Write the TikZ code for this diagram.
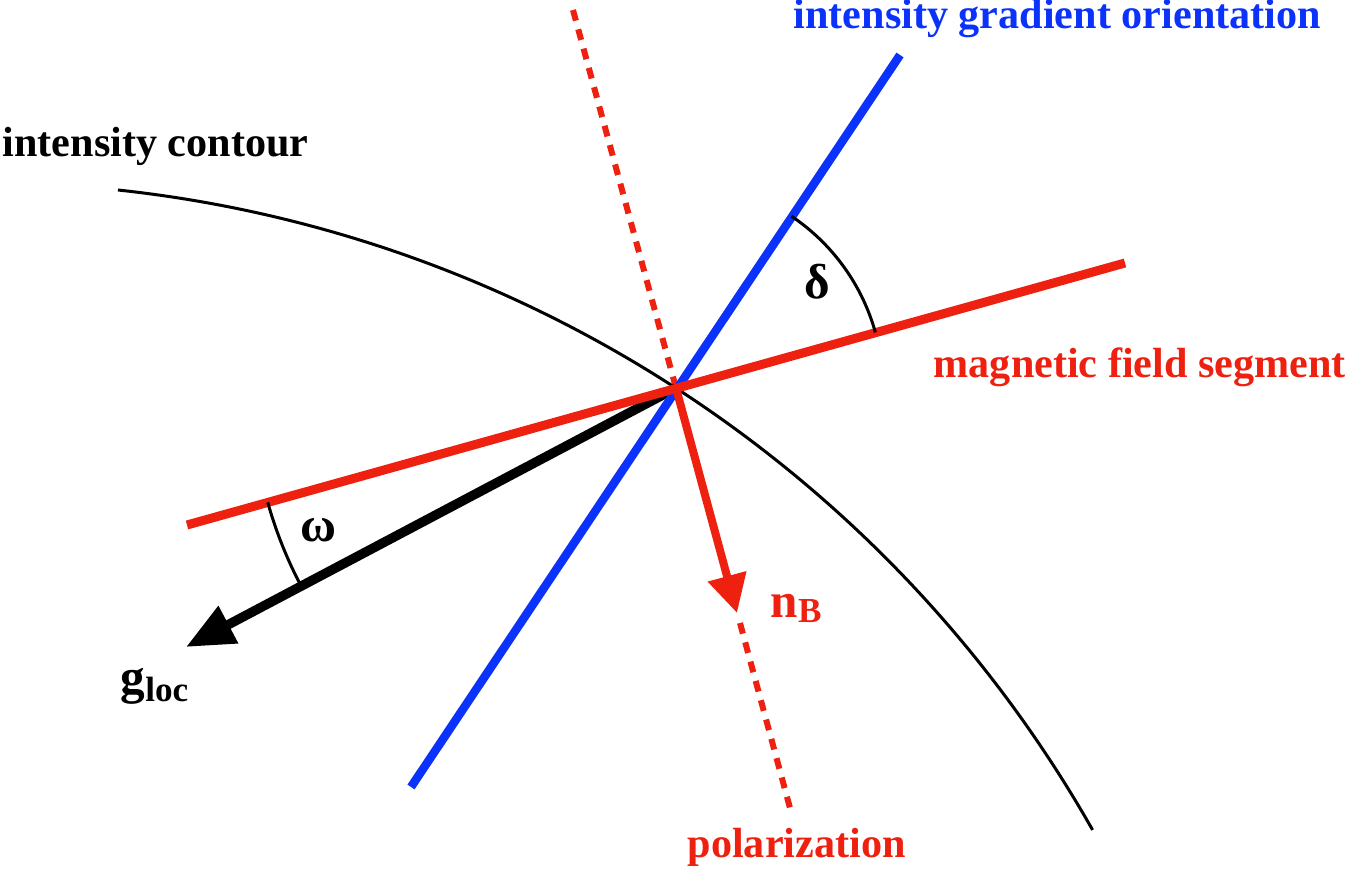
\documentclass[tikz,border=0pt]{standalone}
\usepackage{fontspec}
\setmainfont{Liberation Serif}
\usepackage{xcolor}
\usepackage{tikz}
\usetikzlibrary{arrows.meta}

\definecolor{fieldred}{RGB}{238,32,16}
\definecolor{gradblue}{RGB}{10,50,250}

\begin{document}
\begin{tikzpicture}[font=\bfseries\fontsize{12}{14}\selectfont]
\useasboundingbox (0,0) rectangle (13.5,8.71);

    \coordinate (O) at (6.76,4.83);
    \coordinate (G1) at (4.11,0.84);
    \coordinate (G2) at (9.00,8.16);
    \coordinate (F1) at (1.87,3.46);
    \coordinate (F2) at (11.25,6.08);
    \coordinate (P1) at (5.73,8.61);
    \coordinate (P2) at (7.90,0.63);
    \coordinate (Ntip) at (7.37,2.58);
    \coordinate (Nend) at (7.40,2.48);
    \coordinate (Gtip) at (1.86,2.24);
    \coordinate (C1) at (1.18,6.81);

% contour and polarization
\draw[line width=0.03cm] (C1) arc[start angle=83.85, end angle=29.57, radius=12.78];
\begin{scope}[fieldred, line width=0.06cm, dash pattern=on 0.11cm off 0.09cm]
    \draw (P1) -- (O);
    \draw (Nend) -- (P2);
    \end{scope}

\begin{scope}[>={Triangle[length=0.48cm,width=0.40cm]}]
    \draw[->, line width=0.095cm] (O) -- (Gtip);
    \draw[gradblue, line width=0.085cm] (G1) -- (G2);
    \draw[fieldred, line width=0.09cm] (F1) -- (F2);
    \draw[->, fieldred, line width=0.08cm, >={Triangle[length=0.38cm,width=0.38cm]}] (O) -- (Ntip);
    \end{scope}

% angles
\draw[line width=0.03cm] (O) ++(15.6:2.07) arc[start angle=15.6, end angle=56.1, radius=2.07];
\draw[line width=0.03cm] (O) ++(195.65:4.24) arc[start angle=195.65, end angle=207.86, radius=4.24];

\begin{scope}[every node/.style={inner sep=0pt}]
    \node[anchor=base west] (contour) at (0.02,7.14) {intensity contour};
    \node[anchor=base west, gradblue] (gradient) at (7.93,8.42) {intensity gradient orientation};
    \node[anchor=base west, fieldred] (field) at (9.33,4.94) {magnetic field segment};
    \node[anchor=base west, fieldred] (pol) at (6.87,0.14) {polarization};
    \node[anchor=base west, fieldred, font=\bfseries\fontsize{14}{16}\selectfont] (nB) at (7.70,2.54)
        {n\raisebox{-1.5pt}{\fontsize{10}{12}\selectfont B}};
    \node[anchor=base west, font=\bfseries\fontsize{14}{16}\selectfont] (gloc) at (1.20,1.78)
        {g\raisebox{-2.5pt}{\fontsize{10}{12}\selectfont loc}};
    \node[font=\bfseries\fontsize{14}{16}\selectfont] (delta) at (8.17,5.89) {δ};
    \node[font=\bfseries\fontsize{14}{16}\selectfont] (omega) at (3.18,3.41) {ω};
    \end{scope}

\end{tikzpicture}
\end{document}
